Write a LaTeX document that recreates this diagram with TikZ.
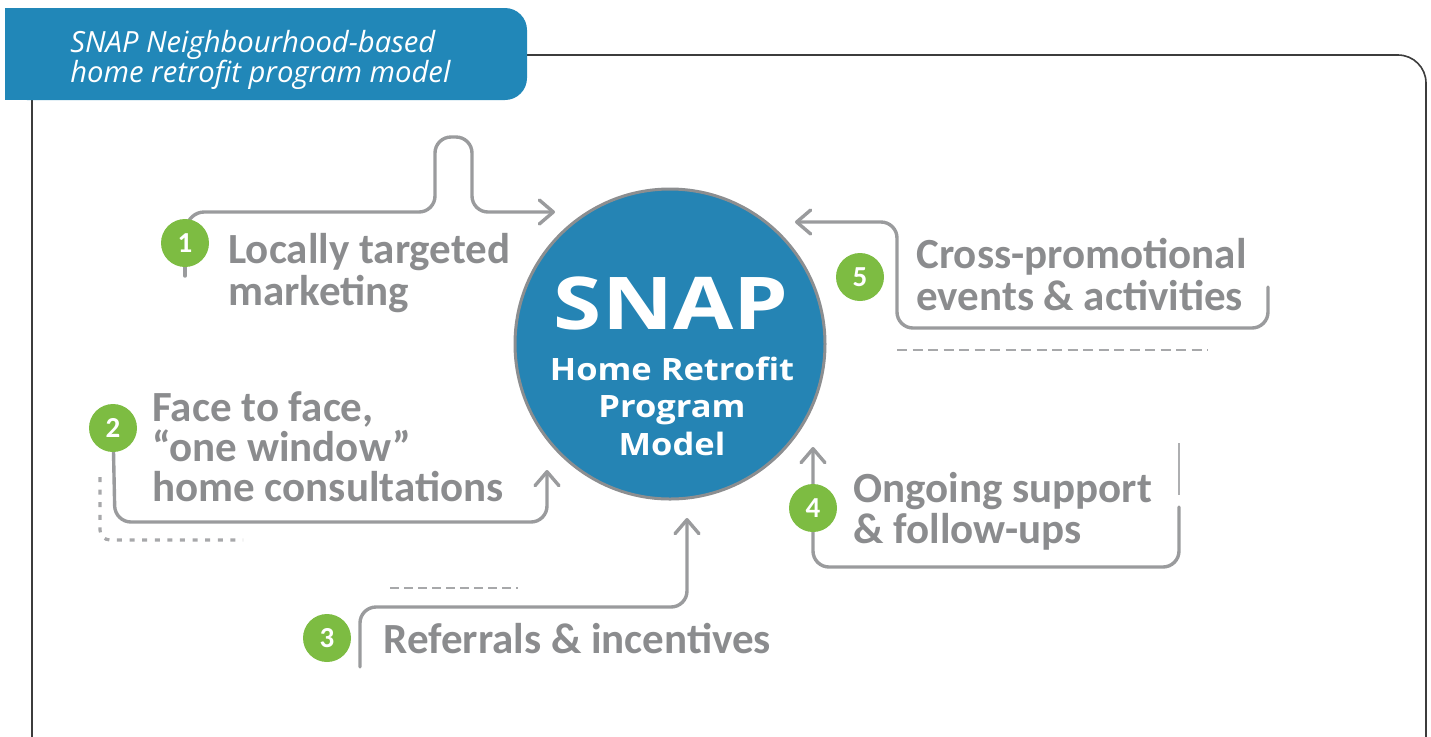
\documentclass[tikz,border=0pt]{standalone}
\usepackage{fontspec}
\setmainfont{Carlito}
\newfontfamily\hubfont[FakeStretch=1.2]{Open Sans}
\newfontfamily\subhubfont[FakeStretch=1.12]{Open Sans}
\newfontfamily\headfont{Open Sans}
\usetikzlibrary{arrows.meta}

\definecolor{framegray}{HTML}{3C3C3C}
\definecolor{titleblue}{HTML}{2187B8}
\definecolor{hubblue}{HTML}{2584B4}
\definecolor{hubrim}{HTML}{8C8E90}
\definecolor{itemgray}{HTML}{8B8C8E}
\definecolor{linegray}{HTML}{9A9B9D}
\definecolor{dashgray}{HTML}{A7A8AA}
\definecolor{stepgreen}{HTML}{7DBC42}

\begin{document}
\begin{tikzpicture}[x=0.5pt,y=-0.5pt,
  itemtext/.style={font=\bfseries\fontsize{21.5}{21.5}\selectfont, text=itemgray,
    inner sep=0pt, anchor=base west, text height=14.5pt, text depth=3pt},
  headtext/.style={font=\headfont\itshape\fontsize{14.6}{14.6}\selectfont, text=white,
    inner sep=0pt, anchor=base west},
  badge/.style={circle, fill=stepgreen, minimum size=24pt, inner sep=0pt,
    text=white, font=\bfseries\fontsize{14.5}{14.5}\selectfont},
  conn/.style={draw=linegray, line width=1.7pt, line cap=round, line join=round,
    rounded corners=8pt},
  tipped/.style={-{Straight Barb[length=7pt,width=12pt,round]}},
  guide/.style={draw=dashgray, line width=1.3pt},
  bigword/.style={font=\hubfont\bfseries\fontsize{36.4}{36.4}\selectfont, text=white,
    inner sep=0pt, anchor=base},
  hubline/.style={font=\subhubfont\bfseries\fontsize{15.4}{15.4}\selectfont, text=white,
    inner sep=0pt, anchor=base},
]
\useasboundingbox (0,0) rectangle (1431,736);

% outer frame, running off the bottom edge
\draw[framegray, line width=0.8pt, rounded corners=14pt] (32,55) rectangle (1426,765);

% title tab: rounded on the right, square on the left
\fill[titleblue, rounded corners=11pt] (5,8) rectangle (527,100);
\fill[titleblue] (5,8) rectangle (120,100);
\node[headtext] (head1) at (70,52) {SNAP Neighbourhood-based};
\node[headtext] (head2) at (70,82) {home retrofit program model};

% central hub
\node[circle, fill=hubblue, draw=hubrim, line width=1.5pt, minimum size=155pt,
  inner sep=0pt] (hub) at (670,344) {};
\node[bigword] (snap) at (671,329) {SNAP};
\node[hubline] (hubA) at (672,380) {Home Retrofit};
\node[hubline] (hubB) at (672,417) {Program};
\node[hubline] (hubC) at (672,455) {Model};

% badge anchors and free connector ends
\coordinate (b1) at (185,243);
\coordinate (b2) at (113,428);
\coordinate (b3) at (327,638);
\coordinate (b4) at (813,508);
\coordinate (b5) at (860,277);

\coordinate (c1end) at (555,212);
\coordinate (c2end) at (547,470);
\coordinate (c3start) at (360,667);
\coordinate (c3end) at (687,518);
\coordinate (c4start) at (1179,507);
\coordinate (c4end) at (813,447);
\coordinate (c4barA) at (1179,443);
\coordinate (c4barB) at (1179,495);
\coordinate (c5start) at (1268,287);
\coordinate (c5end) at (795,222);

% dashed and dotted guides
\draw[guide, dash pattern=on 5pt off 2.75pt] (897,350) -- (1208,350);
\draw[guide, dash pattern=on 4.5pt off 2.5pt] (390,588) -- (518,588);
\draw[guide, line width=1.6pt, dash pattern=on 2.5pt off 3.8pt, rounded corners=5pt]
  (100,477) -- (100,540) -- (243,540);

% connectors (badges are drawn over them)
\draw[conn, tipped] (b1) -- (188,212) -- (435,212) -- (435,137) -- (472,137)
  -- (472,212) -- (c1end);
\draw[conn] (b1) -- (185,276);
\draw[conn, tipped] (b2) -- (115,522) -- (547,522) -- (c2end);
\draw[conn, tipped] (c3start) -- (360,607) -- (687,607) -- (c3end);
\draw[conn, tipped] (c4start) -- (1179,567) -- (813,567) -- (c4end);
\draw[draw=linegray!80, line width=1.1pt] (c4barA) -- (c4barB);
\draw[conn, tipped] (c5start) -- (1268,328) -- (897,328) -- (897,222) -- (c5end);

% numbered badges
\node[badge] (g1) at (b1) {1};
\node[badge] (g2) at (b2) {2};
\node[badge] (g3) at (b3) {3};
\node[badge] (g4) at (b4) {4};
\node[badge] (g5) at (b5) {5};

% step texts
\node[itemtext] (t1a) at (228,263) {Locally targeted};
\node[itemtext] (t1b) at (228,305) {marketing};
\node[itemtext] (t2a) at (152,421) {Face to face,};
\node[itemtext] (t2b) at (152,461) {“one window”};
\node[itemtext] (t2c) at (152,501) {home consultations};
\node[itemtext] (t3)  at (383,653) {Referrals \& incentives};
\node[itemtext] (t4a) at (853,502) {Ongoing support};
\node[itemtext] (t4b) at (853,543) {\& follow-ups};
\node[itemtext] (t5a) at (916,268) {Cross-promotional};
\node[itemtext] (t5b) at (916,310) {events \& activities};
\end{tikzpicture}
\end{document}
